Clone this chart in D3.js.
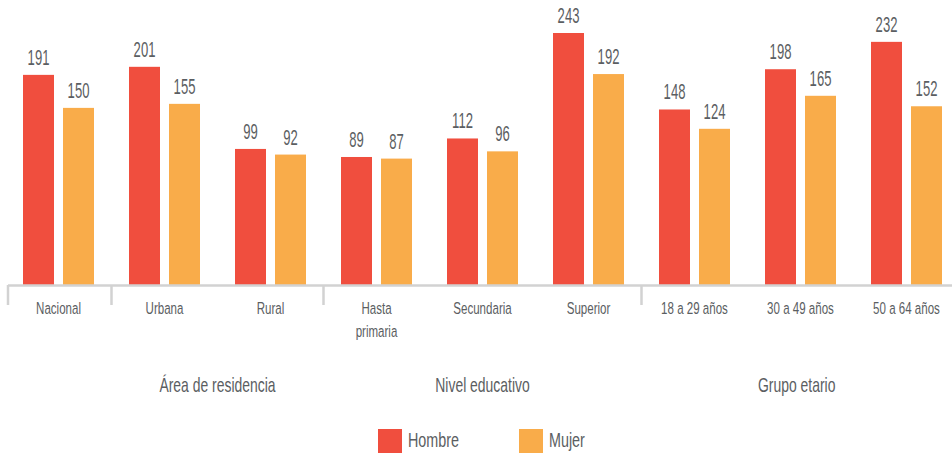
<!DOCTYPE html>
<html>
<head>
<meta charset="utf-8">
<script src="https://cdn.jsdelivr.net/npm/d3@7.9.0/dist/d3.min.js"></script>
<style>
  body { margin: 0; background: #fff; }
  svg text { font-family: "Liberation Sans", Arial, sans-serif; fill: #5b5e62; }
</style>
</head>
<body>
<svg id="chart" width="952" height="456"></svg>
<script>
const categories = ['Nacional', 'Urbana', 'Rural', 'Hasta primaria', 'Secundaria', 'Superior', '18 a 29 años', '30 a 49 años', '50 a 64 años'];
const tickLabels = [['Nacional'], ['Urbana'], ['Rural'], ['Hasta', 'primaria'], ['Secundaria'], ['Superior'], ['18 a 29 años'], ['30 a 49 años'], ['50 a 64 años']];
const hombre = [191, 201, 99, 89, 112, 243, 148, 198, 232];
const mujer = [150, 155, 92, 87, 96, 192, 124, 165, 152];
const series = ['Hombre', 'Mujer'];
const colors = ['#f04e3e', '#f9ac4a'];
const groupNames = ['', 'Área de residencia', 'Nivel educativo', 'Grupo etario'];
const groupSizes = [1, 2, 3, 3];

const svg = d3.select('#chart');
const baseline = 285;
const squeeze = 0.7; // condensed look

const x = d3.scaleBand().domain(categories).range([5.5, 959.5]).padding(0);
const xInner = d3.scaleBand().domain(series).range([17.5, 88.5]).paddingInner(0.225);
const y = d3.scaleLinear().domain([-70, 243]).range([baseline, 33]);

// text drawn inside a horizontally squeezed group
function label(parent, tx, ty, size, anchor, sx) {
  return parent.append('g')
    .attr('transform', `translate(${tx},${ty}) scale(${sx || squeeze},1)`)
    .append('text')
    .attr('text-anchor', anchor)
    .style('font-size', size + 'px');
}

const rows = categories.map((c, i) => ({ cat: c, values: [hombre[i], mujer[i]] }));

// bars
const groups = svg.append('g').selectAll('g').data(rows).join('g')
  .attr('transform', (d) => `translate(${x(d.cat)},0)`);

groups.selectAll('rect')
  .data((d) => d.values.map((v, i) => ({ key: series[i], v, i })))
  .join('rect')
  .attr('x', (d) => xInner(d.key))
  .attr('width', xInner.bandwidth())
  .attr('y', (d) => y(d.v))
  .attr('height', (d) => baseline - y(d.v))
  .attr('fill', (d) => colors[d.i]);

groups.each(function (d) {
  const g = d3.select(this);
  d.values.forEach((v, i) => {
    label(g, xInner(series[i]) + xInner.bandwidth() / 2, y(v) - 10, 22.5, 'middle', 0.58).text(v);
  });
});

// axis line and separators
const axis = svg.append('g').attr('stroke', '#d2d2d2').attr('stroke-width', 2.5);
axis.append('line').attr('x1', 8).attr('x2', 952).attr('y1', baseline + 0.5).attr('y2', baseline + 0.5);

let idx = 0;
const bounds = groupSizes.map((n) => {
  const start = idx;
  idx += n;
  return [start, idx - 1];
});
bounds.forEach(([s]) => {
  const xs = s === 0 ? 8 : x(categories[s]);
  axis.append('line').attr('x1', xs).attr('x2', xs).attr('y1', baseline).attr('y2', 305);
});

// category labels
const catG = svg.append('g');
categories.forEach((c, i) => {
  const t = label(catG, x(c) + x.bandwidth() / 2, 314, 16.5, 'middle');
  t.selectAll('tspan').data(tickLabels[i]).join('tspan')
    .attr('x', 0)
    .attr('dy', (s, j) => (j === 0 ? 0 : 23))
    .text((s) => s);
});

// group labels
const grpG = svg.append('g');
bounds.forEach(([s, e], i) => {
  const x0 = s === 0 ? 8 : x(categories[s]);
  const x1 = e === categories.length - 1 ? 952 : x(categories[e]) + x.bandwidth();
  label(grpG, (x0 + x1) / 2, 392, 20.5, 'middle', 0.68).text(groupNames[i]);
});

// legend
const legendX = [378, 519];
const legG = svg.append('g');
series.forEach((s, i) => {
  legG.append('rect').attr('x', legendX[i]).attr('y', 429).attr('width', 24).attr('height', 24).attr('fill', colors[i]);
  label(legG, legendX[i] + 30, 447, 20.5, 'start').text(s);
});
</script>
</body>
</html>
